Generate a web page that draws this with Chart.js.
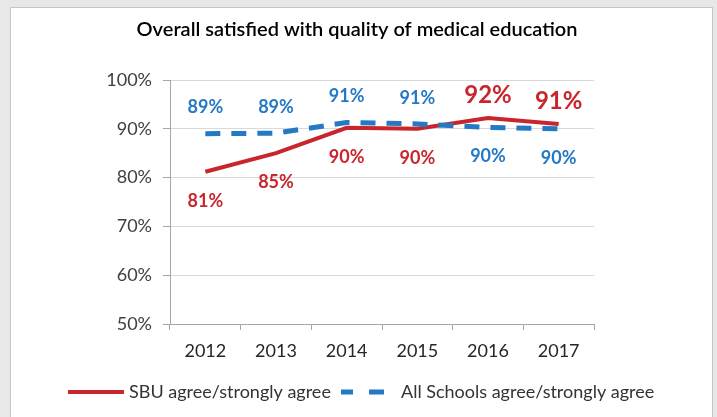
<!DOCTYPE html>
<html>
<head>
<meta charset="utf-8">
<script src="https://cdn.jsdelivr.net/npm/chart.js@4.4.1/dist/chart.umd.min.js"></script>
<style>
  html, body { margin: 0; padding: 0; background: #e8e8e8; overflow: hidden; }
  #panel { position: absolute; left: 10px; top: 7px; width: 701px; height: 420px; background: #fff; border: 1px solid #c6c6c6; }
  canvas { display: block; }
</style>
</head>
<body>
<div id="panel"><canvas id="c" width="701" height="410"></canvas></div>
<script>
// ---- data ----
const years = ["2012", "2013", "2014", "2015", "2016", "2017"];
const sbuValues = [81.2, 85.0, 90.2, 90.0, 92.2, 91.0];
const allSchoolsValues = [89.0, 89.1, 91.3, 91.0, 90.3, 90.0];
const seriesNames = ["SBU agree/strongly agree", "All Schools agree/strongly agree"];
const titleText = "Overall satisfied with quality of medical education";
const yTicks = [50, 60, 70, 80, 90, 100];

// ---- label styling (placement per point) ----
const placement = [
  ["below", "below", "below", "below", "above", "above"],
  ["above", "above", "above", "above", "below", "below"]
];
const bigLabel = [
  [false, false, false, false, true, true],
  [false, false, false, false, false, false]
];

const RED = "#c8262c";
const BLUE = "#2479c4";
const FONT = "Lato, 'Open Sans', sans-serif";

const labelPlugin = {
  id: "pointLabels",
  afterDatasetsDraw(chart) {
    const ctx = chart.ctx;
    ctx.save();
    ctx.textAlign = "center";
    ctx.textBaseline = "middle";
    chart.data.datasets.forEach((ds, i) => {
      const meta = chart.getDatasetMeta(i);
      meta.data.forEach((pt, j) => {
        const big = bigLabel[i][j];
        const above = placement[i][j] === "above";
        ctx.font = (big ? "bold 24px " : "bold 18px ") + FONT;
        ctx.fillStyle = ds.borderColor;
        const dy = above ? (big ? -23 : -26) : 29;
        ctx.fillText(Math.round(ds.data[j]) + "%", pt.x, pt.y + dy);
      });
    });
    ctx.restore();
  },
  afterDraw(chart) {
    const ctx = chart.ctx;
    ctx.save();
    // title
    ctx.font = "600 20px " + FONT;
    ctx.fillStyle = "#000";
    ctx.textAlign = "center";
    ctx.textBaseline = "middle";
    ctx.fillText(titleText, 346, 22);
    // legend
    const ly = 384;
    ctx.textAlign = "left";
    ctx.font = "18px " + FONT;
    ctx.fillStyle = "#333";
    ctx.strokeStyle = RED;
    ctx.lineWidth = 4;
    ctx.beginPath(); ctx.moveTo(57, ly); ctx.lineTo(113, ly); ctx.stroke();
    ctx.fillText(chart.data.datasets[0].label, 118, ly);
    ctx.strokeStyle = BLUE;
    ctx.lineWidth = 5;
    ctx.beginPath(); ctx.moveTo(330, ly); ctx.lineTo(342, ly); ctx.moveTo(358, ly); ctx.lineTo(373, ly); ctx.stroke();
    ctx.fillText(chart.data.datasets[1].label, 390, ly);
    ctx.restore();
  }
};

new Chart(document.getElementById("c"), {
  type: "line",
  data: {
    labels: years,
    datasets: [
      {
        label: seriesNames[0],
        data: sbuValues,
        borderColor: RED,
        backgroundColor: RED,
        borderWidth: 4,
        pointRadius: 0,
        tension: 0,
        order: 1
      },
      {
        label: seriesNames[1],
        data: allSchoolsValues,
        borderColor: BLUE,
        backgroundColor: BLUE,
        borderWidth: 5,
        borderDash: [15, 11],
        pointRadius: 0,
        tension: 0,
        order: 0
      }
    ]
  },
  options: {
    responsive: false,
    animation: false,
    devicePixelRatio: 1,
    layout: { autoPadding: false, padding: { top: 72, left: 0, right: 118, bottom: 54 } },
    plugins: { legend: { display: false }, title: { display: false }, tooltip: { enabled: false } },
    scales: {
      x: {
        offset: true,
        grid: { offset: true, drawOnChartArea: false, drawTicks: true, tickLength: 6, color: "#a6a6a6" },
        border: { color: "#a6a6a6", width: 1 },
        ticks: { color: "#262626", font: { family: FONT, size: 18 }, padding: 10 },
        afterFit(s) { s.height = 40; }
      },
      y: {
        min: 50, max: 100,
        afterBuildTicks(s) { s.ticks = yTicks.map(v => ({ value: v })); },
        grid: { color: "#d9d9d9", drawTicks: true, tickLength: 7, tickColor: "#a6a6a6" },
        border: { color: "#a6a6a6", width: 1 },
        ticks: { color: "#404040", font: { family: FONT, size: 18 }, padding: 11, callback: v => v + "%" },
        afterFit(s) { s.width = 159; }
      }
    }
  },
  plugins: [labelPlugin]
});
</script>
</body>
</html>
